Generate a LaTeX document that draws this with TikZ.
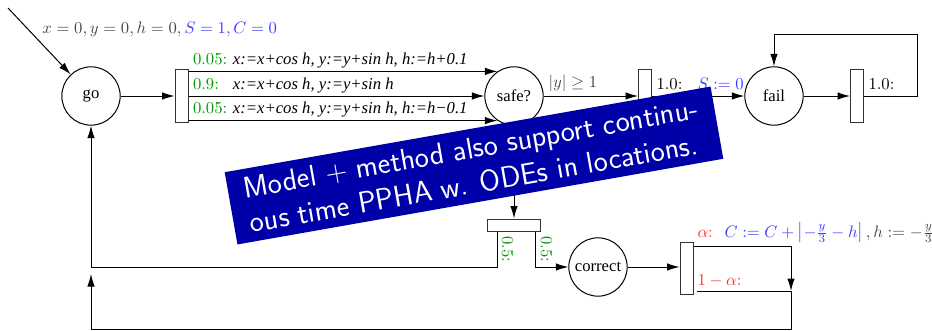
\documentclass[tikz,border=0pt]{standalone}
\usepackage{fontspec}
\newfontfamily\tms{Liberation Serif}
\usetikzlibrary{arrows.meta,calc}
\definecolor{mygreen}{RGB}{0,150,0}
\definecolor{myblue}{RGB}{60,60,255}
\definecolor{myred}{RGB}{255,50,50}
\definecolor{mygray}{RGB}{70,70,70}
\definecolor{bannerblue}{RGB}{0,0,168}
\begin{document}
\begin{tikzpicture}[x=0.6pt,y=-0.6pt,
  line width=0.6pt,
  arr/.style={-{Latex[length=7.5pt,width=4.5pt]}},
  loc/.style={circle,draw,minimum size=35pt,inner sep=0pt,font=\tms},
  vbar/.style={draw=black!80,minimum width=7.8pt,minimum height=31.5pt,inner sep=0pt},
  hbar/.style={draw=black!80,minimum width=31.8pt,minimum height=7.2pt,inner sep=0pt},
  lbl/.style={inner sep=0pt,anchor=base west},
  banner/.style={fill=bannerblue,text=white,rotate=10,font=\sffamily\fontsize{18}{21}\selectfont,
    align=left,minimum width=296pt,minimum height=44pt,inner sep=0pt}
]
\useasboundingbox (0,0) rectangle (932,331);

% locations
\node[loc] (go) at (91,96) {go};
\node[loc] (safe) at (514,96) {safe?};
\node[loc] (fail) at (774,96) {fail};
\node[loc] (correct) at (598,267) {correct};
% bars
\node[vbar] (b1) at (181.5,96) {};
\node[vbar] (b2) at (645,96) {};
\node[vbar] (b3) at (857,96) {};
\node[hbar] (b4) at (514,225) {};
\node[vbar] (b5) at (686.5,268.5) {};

% initial
\coordinate (init) at (8,8);
\draw[arr] (init) -- (go);
\node[lbl] (initlbl) at (42,34) {$\color{mygray}x=0,y=0,h=0,\color{myblue}S=1,C=0$};

% go -> bar1 -> safe
\draw[arr] (go) -- (b1);
\draw[arr] (b1.east |- safe.124) -- (safe.124);
\draw[arr] (b1.east |- safe.west) -- (safe.west);
\draw[arr] (b1.east |- safe.236) -- (safe.236);
\node[lbl] (p1) at ($(b1.east |- safe.124)+(4,-7)$) {\makebox[2.4em][l]{\color{mygreen}0.05:}\tms\itshape x:=x+cos h, y:=y+sin h, h:=h+0.1};
\node[lbl] (p2) at ($(b1.east |- safe.west)+(4,-7)$) {\makebox[2.4em][l]{\color{mygreen}0.9:}\tms\itshape x:=x+cos h, y:=y+sin h};
\node[lbl] (p3) at ($(b1.east |- safe.236)+(4,-7)$) {\makebox[2.4em][l]{\color{mygreen}0.05:}\tms\itshape x:=x+cos h, y:=y+sin h, h:=h−0.1};

% safe -> bar2 -> fail
\draw[arr] (safe) -- (b2);
\node[lbl] (g1) at (548,87) {$\color{mygray}|y|\geq 1$};
\node[lbl] (q1) at (656,89) {1.0:};
\node[lbl] (s0) at (697,89) {$\color{myblue}S:=0$};
\draw[arr] (b2) -- (fail);

% fail loop
\draw[arr] (fail) -- (b3);
\node[lbl] (q2) at (868,89) {1.0:};
\coordinate (lpR) at (917,34);
\draw[arr] (b3.east) -| (lpR) -| (fail.north);

% safe -> bar4
\draw[arr] (safe) -- (b4);
\coordinate (b4l) at (497,267);
\draw[arr] (b4.south -| b4l) -- (b4l) -| (go.south);
\coordinate (b4r) at (535,267);
\draw[arr] (b4.south -| b4r) -- (b4r) -- (correct.west);
\node[lbl,rotate=-90,text=mygreen] (h1) at (502,236) {0.5:};
\node[lbl,rotate=-90,text=mygreen] (h2) at (541,236) {0.5:};

% correct -> bar5
\draw[arr] (correct.east) -- (correct.east -| b5.west);
\coordinate (b5t) at (791,246);
\coordinate (b5b) at (791,291);
\draw[arr] (b5.east |- b5t) -- (b5t) -- (b5b);
\coordinate (bR) at (791,329);
\coordinate (bL) at (91,329);
\coordinate (b5end) at (91,274);
\draw[arr] ($(b5.east |- b5b)+(3,0)$) -- (b5b) -- (bR) -- (bL) -- (b5end);
\node[lbl] (alab) at (697,237) {\color{myred}$\alpha$:\hspace{7pt}$\color{myblue}C:=C+\left|-\frac{y}{3}-h\right|\color{mygray},h:=-\frac{y}{3}$};
\node[lbl] (nalab) at (697,285) {\color{myred}$1-\alpha$:};

% banner
\node[banner] (note) at (474,165.5) {Model + method also support continu-\\ous time PPHA w. ODEs in locations.};
\end{tikzpicture}
\end{document}
